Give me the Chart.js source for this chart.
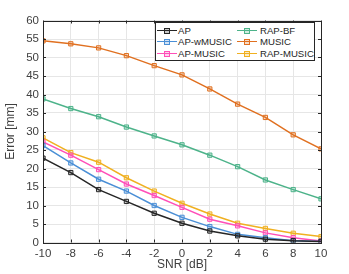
<!DOCTYPE html>
<html>
<head>
<meta charset="utf-8">
<script src="https://cdn.jsdelivr.net/npm/chart.js@4.4.0/dist/chart.umd.min.js"></script>
<style>
  html,body{margin:0;padding:0;background:#fff;}
  #wrap{position:relative;width:349px;height:274px;}
  canvas{display:block;}
  #legend{position:absolute;left:155px;top:22px;width:160px;height:39px;background:#fff;border:1px solid #262626;box-sizing:border-box;
    font-family:"Liberation Sans",Arial,sans-serif;font-size:9.6px;color:#262626;}
  .item{position:absolute;height:12px;line-height:12px;white-space:nowrap;}
  .ln{position:absolute;top:5px;width:20px;height:0;border-top:1.5px solid;}
  .mk{position:absolute;top:3px;left:7px;width:4px;height:4px;border:1px solid;}
  .tx{position:absolute;top:0;}
</style>
</head>
<body>
<div id="wrap">
<canvas id="c" width="349" height="274"></canvas>
<div id="legend"></div>
</div>
<script>
const snr = [-10,-8,-6,-4,-2,0,2,4,6,8,10];
const seriesNames = ["AP","AP-wMUSIC","AP-MUSIC","RAP-BF","MUSIC","RAP-MUSIC"];
const AP        = [22.8,18.9,14.3,11.1,7.9,5.2,3.1,1.8,0.9,0.5,0.3];
const AP_wMUSIC = [26.2,21.5,17.1,13.9,10.0,6.8,4.3,2.2,1.3,0.5,0.3];
const AP_MUSIC  = [27.2,23.6,19.7,15.8,12.7,9.5,6.3,4.5,2.6,1.3,0.4];
const RAP_BF    = [38.8,36.2,34.0,31.2,28.8,26.4,23.6,20.5,16.9,14.3,11.8];
const MUSIC     = [54.5,53.7,52.6,50.5,47.8,45.3,41.5,37.4,33.8,29.1,25.3];
const RAP_MUSIC = [28.3,24.3,21.7,17.5,13.9,10.6,7.7,5.2,3.8,2.5,1.6];
const seriesValues = [AP,AP_wMUSIC,AP_MUSIC,RAP_BF,MUSIC,RAP_MUSIC];
const colors = ["#262626","#4a8fd6","#ff4fb8","#4db38a","#e07020","#f0b020"];
const yTicks = [0,5,10,15,20,25,30,35,40,45,50,55,60];
const xTicks = snr;

const FONT = "'Liberation Sans', Arial, sans-serif";

const datasets = seriesNames.map((n,i)=>({
  label:n,
  data: snr.map((x,j)=>({x:x,y:seriesValues[i][j]})),
  borderColor:colors[i],
  backgroundColor:colors[i]+"40",
  borderWidth:1.5,
  pointStyle:'rect',
  pointRadius:3,
  pointBorderWidth:1,
  pointBorderColor:colors[i],
  pointBackgroundColor:colors[i]+"40",
  tension:0,
  fill:false
}));

const boxPlugin = {
  id:'box',
  afterDraw(chart){
    const {ctx, chartArea:a, scales} = chart;
    ctx.save();
    ctx.strokeStyle = '#262626';
    ctx.lineWidth = 1;
    ctx.strokeRect(Math.round(a.left)+0.5, Math.round(a.top)+0.5, Math.round(a.right-a.left), Math.round(a.bottom-a.top));
    const L=3;
    ctx.beginPath();
    xTicks.forEach(v=>{
      const px = Math.round(scales.x.getPixelForValue(v))+0.5;
      ctx.moveTo(px,a.bottom); ctx.lineTo(px,a.bottom-L);
      ctx.moveTo(px,a.top); ctx.lineTo(px,a.top+L);
    });
    yTicks.forEach(v=>{
      const py = Math.round(scales.y.getPixelForValue(v))+0.5;
      ctx.moveTo(a.left,py); ctx.lineTo(a.left+L,py);
      ctx.moveTo(a.right,py); ctx.lineTo(a.right-L,py);
    });
    ctx.stroke();
    ctx.restore();
  }
};

new Chart(document.getElementById('c'), {
  type:'line',
  data:{datasets},
  options:{
    responsive:false,
    animation:false,
    layout:{padding:{top:20.5,right:28,left:0,bottom:0}},
    plugins:{legend:{display:false},tooltip:{enabled:false}},
    scales:{
      x:{
        type:'linear', min:-10, max:10,
        afterBuildTicks(s){ s.ticks = xTicks.map(v=>({value:v})); },
        afterFit(s){ s.height = 31.5; },
        grid:{color:'#e6e6e6', drawTicks:false},
        border:{display:false},
        ticks:{color:'#404040', font:{family:FONT,size:11.5}, padding:4, maxRotation:0},
        title:{display:true, text:'SNR [dB]', color:'#404040', font:{family:FONT,size:12,lineHeight:1}, padding:{top:0,bottom:3}}
      },
      y:{
        type:'linear', min:0, max:60,
        afterBuildTicks(s){ s.ticks = yTicks.map(v=>({value:v})); },
        afterFit(s){ s.width = 43; },
        grid:{color:'#e6e6e6', drawTicks:false},
        border:{display:false},
        ticks:{color:'#404040', font:{family:FONT,size:11.5}, padding:4},
        title:{display:true, text:'Error [mm]', color:'#404040', font:{family:FONT,size:12,lineHeight:1}, padding:{top:5,bottom:0}}
      }
    }
  },
  plugins:[boxPlugin]
});

// HTML legend built from series names and colors
const leg = document.getElementById('legend');
seriesNames.forEach((n,i)=>{
  const col = Math.floor(i/3), row = i%3;
  const it = document.createElement('div');
  it.className='item';
  it.style.left = (col===0 ? 0 : 80)+'px';
  it.style.top = (1.5+row*11.7)+'px';
  it.innerHTML = '<div class="ln" style="left:1px;border-color:'+colors[i]+'"></div>'+
    '<div class="mk" style="left:8px;border-color:'+colors[i]+';background:'+colors[i]+'40"></div>'+
    '<div class="tx" style="left:'+(col===0?22:24)+'px">'+n+'</div>';
  leg.appendChild(it);
});
</script>
</body>
</html>
